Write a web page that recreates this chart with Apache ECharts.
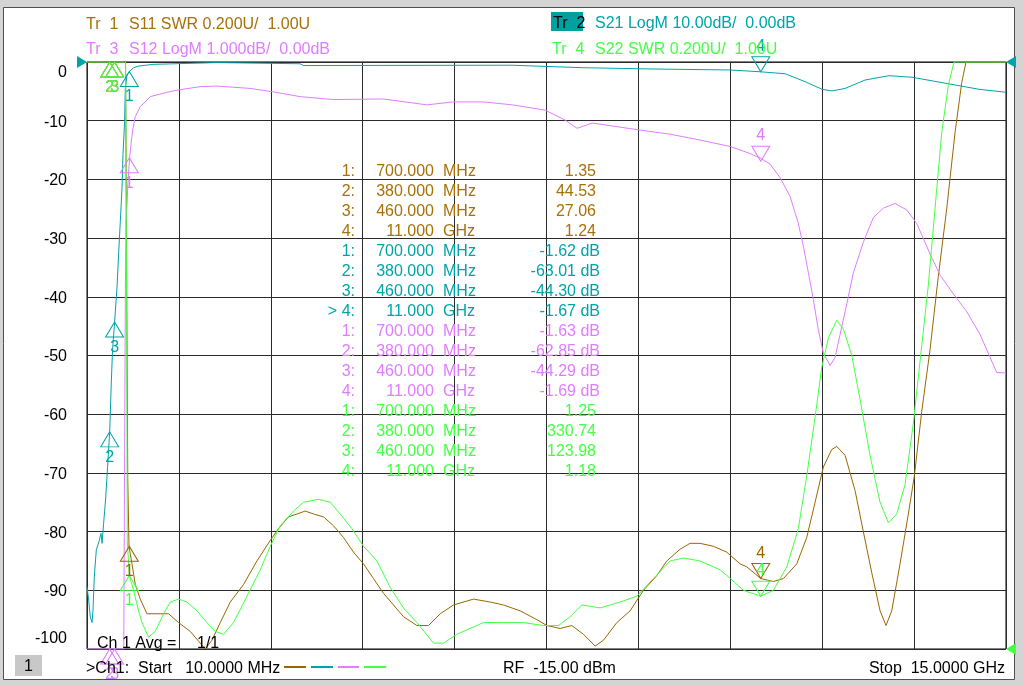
<!DOCTYPE html>
<html><head><meta charset="utf-8">
<script src="https://cdn.jsdelivr.net/npm/echarts@6/dist/echarts.min.js"></script>
<style>html,body{margin:0;padding:0;background:#d4d4d4;}#c{width:1024px;height:686px;}</style>
</head><body><div id="c"></div>
<script>
// ---- data (frequency in GHz) ----
const s11Freq = [0.010,0.639,0.659,0.675,0.695,0.744,0.798,0.879,0.988,1.151,1.341,1.504,1.694,1.857,1.939,2.048,2.184,2.347,2.564,2.782,2.999,3.134,3.297,3.434,3.570,3.705,3.868,4.031,4.194,4.357,4.520,4.683,4.846,5.009,5.173,5.391,5.580,5.771,5.988,6.314,6.586,6.803,7.075,7.348,7.511,7.728,7.918,8.108,8.298,8.434,8.652,8.869,9.086,9.304,9.467,9.684,9.847,10.010,10.227,10.446,10.663,10.772,11.000,11.206,11.369,11.587,11.750,11.886,12.021,12.158,12.240,12.375,12.538,12.673,12.810,12.946,13.043,13.136,13.272,13.407,13.505,13.626,13.761,13.896,14.033,14.169,14.278,14.348,15.000];
const s11Swr = [3.00,3.00,2.19,1.58,1.35,1.29,1.22,1.17,1.12,1.12,1.12,1.09,1.06,1.02,1.00,1.03,1.09,1.16,1.22,1.30,1.37,1.41,1.45,1.46,1.47,1.46,1.45,1.42,1.38,1.33,1.29,1.24,1.19,1.15,1.11,1.08,1.08,1.12,1.15,1.17,1.16,1.15,1.13,1.10,1.08,1.07,1.08,1.05,1.01,1.03,1.09,1.13,1.20,1.25,1.30,1.34,1.36,1.36,1.35,1.33,1.29,1.28,1.24,1.23,1.24,1.29,1.38,1.50,1.62,1.68,1.69,1.66,1.54,1.40,1.26,1.13,1.08,1.13,1.29,1.46,1.59,1.81,2.02,2.27,2.50,2.76,2.93,3.00,3.00];

const s21Freq = [0.010,0.036,0.064,0.092,0.108,0.129,0.162,0.211,0.238,0.255,0.281,0.313,0.346,0.380,0.406,0.427,0.460,0.499,0.525,0.553,0.581,0.597,0.623,0.635,0.662,0.700,0.765,0.846,1.091,2.135,3.488,3.537,6.945,8.087,9.228,10.500,11.000,11.397,11.723,12.000,12.163,12.375,12.701,13.092,13.467,14.005,14.560,15.000];
const s21Db = [-89.4,-91.5,-94.5,-95.5,-93.4,-87.7,-83.1,-81.5,-80.3,-82.0,-78.6,-74.6,-68.9,-63.0,-54.7,-49.0,-44.3,-38.5,-32.9,-27.2,-21.5,-15.8,-10.2,-4.5,-2.2,-1.62,-1.0,-0.7,-0.4,-0.1,-0.3,-0.6,-0.55,-0.97,-1.19,-1.36,-1.67,-2.0,-3.35,-4.65,-4.94,-4.5,-3.07,-2.33,-2.6,-3.6,-4.65,-5.16];

const s12Freq = [0.010,0.610,0.618,0.626,0.635,0.646,0.662,0.679,0.705,0.732,0.760,0.798,0.879,0.988,1.042,1.259,1.478,1.857,2.130,2.673,3.053,3.488,4.026,4.841,5.554,5.983,6.472,6.945,7.483,7.809,8.005,8.250,8.576,9.034,9.521,10.010,10.504,10.826,11.000,11.152,11.315,11.478,11.613,11.695,11.776,11.858,11.940,12.021,12.131,12.212,12.294,12.403,12.510,12.673,12.836,12.999,13.190,13.381,13.544,13.761,13.924,14.141,14.359,14.576,14.739,14.849,15.000];
const s12Db = [-10,-10,-8.0,-6.2,-4.0,-2.72,-2.44,-2.04,-1.64,-1.36,-1.13,-0.93,-0.76,-0.65,-0.59,-0.53,-0.48,-0.42,-0.41,-0.45,-0.51,-0.59,-0.64,-0.63,-0.73,-0.68,-0.68,-0.73,-0.82,-0.99,-1.13,-1.04,-1.09,-1.16,-1.23,-1.33,-1.44,-1.56,-1.64,-1.74,-1.97,-2.29,-2.75,-3.14,-3.59,-4.05,-4.57,-4.96,-5.17,-5.03,-4.64,-4.12,-3.59,-3.07,-2.65,-2.49,-2.41,-2.52,-2.75,-3.27,-3.63,-3.95,-4.25,-4.64,-5.03,-5.29,-5.30];

const s22Freq = [0.010,0.639,0.656,0.667,0.700,0.770,0.851,0.907,1.014,1.124,1.259,1.368,1.504,1.641,1.804,1.967,2.102,2.237,2.400,2.619,2.836,2.999,3.162,3.379,3.542,3.786,3.977,4.140,4.331,4.520,4.739,4.956,5.173,5.391,5.662,5.825,6.043,6.260,6.477,6.803,7.129,7.455,7.700,7.891,8.081,8.380,8.706,8.978,9.249,9.521,9.738,10.010,10.336,10.504,10.716,11.000,11.206,11.424,11.613,11.750,11.886,11.995,12.103,12.240,12.347,12.484,12.620,12.782,12.946,13.081,13.218,13.353,13.489,13.598,13.733,13.842,13.952,14.059,14.152,15.000];
const s22Swr = [3.00,3.00,2.19,1.37,1.25,1.20,1.13,1.09,1.04,1.06,1.12,1.16,1.17,1.16,1.13,1.09,1.06,1.05,1.09,1.18,1.27,1.35,1.42,1.47,1.50,1.51,1.50,1.46,1.41,1.35,1.30,1.21,1.14,1.09,1.02,1.02,1.05,1.07,1.09,1.09,1.09,1.08,1.08,1.11,1.15,1.14,1.16,1.18,1.24,1.30,1.31,1.30,1.27,1.24,1.20,1.18,1.20,1.28,1.41,1.59,1.79,1.96,2.06,2.12,2.09,2.00,1.85,1.66,1.50,1.43,1.46,1.56,1.77,1.98,2.24,2.50,2.76,2.92,3.00,3.00];

// markers
const markerFreq = [0.7, 0.38, 0.46, 11.0];
const markerFreqText = ['700.000', '380.000', '460.000', '11.000'];
const markerUnit = ['MHz', 'MHz', 'MHz', 'GHz'];
const s11Markers = [1.35, 44.53, 27.06, 1.24];
const s21Markers = [-1.62, -63.01, -44.30, -1.67];
const s12Markers = [-1.63, -62.85, -44.29, -1.69];
const s22Markers = [1.25, 330.74, 123.98, 1.18];

const yTicks = { min: -100, max: 0, step: 10 };

// ---- styling ----
const F = '"Liberation Sans", Arial, sans-serif';
const C1 = '#9a6600', C2 = '#00a4a8', C3 = '#e07cff', C4 = '#44ff44';
const T1 = '#a87008';
const DY = 2;

const zip = (a, b) => a.map((v, i) => [v, b[i]]);

function markers(vals, lo, hi, color) {
  return vals.map((v, i) => {
    const y = Math.min(hi, Math.max(lo, v));
    const act = i === 3;
    return {
      coord: [markerFreq[i], y],
      symbol: 'triangle', symbolSize: [18, 15],
      symbolRotate: act ? 180 : 0,
      symbolOffset: [0, act ? -7.5 : 7.5],
      itemStyle: { color: 'rgba(0,0,0,0)', borderColor: color, borderWidth: 1 },
      label: { show: true, formatter: String(i + 1), position: act ? 'top' : 'bottom', distance: 2,
        color: color, fontSize: 16, fontFamily: F }
    };
  });
}
function refArrow(x, y, color, side) {
  return {
    coord: [x, y], symbol: 'triangle', symbolSize: [12, 10],
    symbolRotate: side === 'left' ? -90 : 90,
    symbolOffset: [side === 'left' ? -5 : 5, 0],
    itemStyle: { color: color, borderWidth: 0 }, label: { show: false }
  };
}
function lineSeries(name, data, yIdx, color, mp) {
  return {
    name, type: 'line', xAxisIndex: 0, yAxisIndex: yIdx, data,
    showSymbol: false, symbol: 'none', silent: true, animation: false,
    lineStyle: { color, width: 1 }, itemStyle: { color },
    markPoint: { silent: true, animation: false, data: mp }
  };
}
function txt(x, y, text, color, align, size, z) {
  return { type: 'text', x, y: y + DY, z: z === undefined ? 100 : z, silent: true,
    style: { text, fill: color, font: (size || 16) + 'px ' + F,
      textAlign: align || 'left', align: align || 'left',
      textVerticalAlign: 'middle', verticalAlign: 'middle' } };
}

// marker table
const table = [];
const traces = [
  { vals: s11Markers, color: T1, db: false },
  { vals: s21Markers, color: C2, db: true },
  { vals: s12Markers, color: C3, db: true },
  { vals: s22Markers, color: C4, db: false }
];
traces.forEach((t, ti) => {
  t.vals.forEach((v, i) => {
    const y = 170 + (ti * 4 + i) * 20;
    const idx = (ti === 1 && i === 3) ? '> 4:' : (i + 1) + ':';
    table.push(txt(355, y, idx, t.color, 'right', 16, 1));
    table.push(txt(434, y, markerFreqText[i], t.color, 'right', 16, 1));
    table.push(txt(443, y, markerUnit[i], t.color, 'left', 16, 1));
    if (t.db) table.push(txt(600, y, v.toFixed(2) + ' dB', t.color, 'right', 16, 1));
    else table.push(txt(596, y, v.toFixed(2), t.color, 'right', 16, 1));
  });
});

const graphics = [
  { type: 'rect', z: -100, silent: true, shape: { x: 3.5, y: 7.5, width: 1011, height: 672 },
    style: { fill: '#ffffff', stroke: '#505050', lineWidth: 1 } },
  txt(86, 23, 'Tr  1', T1), txt(129, 23, 'S11 SWR 0.200U/  1.00U', T1),
  txt(86, 48, 'Tr  3', C3), txt(129, 48, 'S12 LogM 1.000dB/  0.00dB', C3),
  { type: 'rect', z: 99, silent: true, shape: { x: 551, y: 12, width: 32, height: 19 }, style: { fill: '#00a0a0' } },
  txt(553, 22, 'Tr  2', '#000000'), txt(595, 22, 'S21 LogM 10.00dB/  0.00dB', C2),
  txt(552, 48, 'Tr  4', C4), txt(595, 48, 'S22 SWR 0.200U/  1.00U', C4),
  txt(97, 642, 'Ch 1 Avg =', '#000000'), txt(197, 642, '1/1', '#000000'),
  { type: 'rect', z: 99, silent: true, shape: { x: 15, y: 655, width: 27, height: 21 }, style: { fill: '#c8c8c8' } },
  txt(28.5, 665, '1', '#000000', 'center'),
  txt(86, 667, '>Ch1:  Start   10.0000 MHz', '#000000'),
  { type: 'line', z: 100, silent: true, shape: { x1: 284, y1: 667, x2: 306, y2: 667 }, style: { stroke: C1, lineWidth: 2 } },
  { type: 'line', z: 100, silent: true, shape: { x1: 311, y1: 667, x2: 333, y2: 667 }, style: { stroke: C2, lineWidth: 2 } },
  { type: 'line', z: 100, silent: true, shape: { x1: 338, y1: 667, x2: 359, y2: 667 }, style: { stroke: C3, lineWidth: 2 } },
  { type: 'line', z: 100, silent: true, shape: { x1: 364, y1: 667, x2: 386, y2: 667 }, style: { stroke: C4, lineWidth: 2 } },
  txt(503, 667, 'RF  -15.00 dBm', '#000000'),
  txt(1005, 667, 'Stop  15.0000 GHz', '#000000', 'right')
].concat(table);

const chart = echarts.init(document.getElementById('c'), null, { renderer: 'canvas' });
chart.setOption({
  animation: false,
  backgroundColor: '#d4d4d4',
  grid: { left: 87, top: 62, width: 919, height: 587, show: true, borderColor: '#000', borderWidth: 1, backgroundColor: 'rgba(0,0,0,0)' },
  xAxis: [
    { type: 'value', min: 0.01, max: 15, show: false },
    { type: 'value', min: 0, max: 10, interval: 1, position: 'bottom',
      axisLine: { show: false }, axisTick: { show: false }, axisLabel: { show: false },
      splitLine: { show: true, lineStyle: { color: '#2a2a2a', width: 1 } } }
  ],
  yAxis: [
    { type: 'value', min: yTicks.min, max: yTicks.max, interval: yTicks.step,
      axisLine: { show: false }, axisTick: { show: false },
      splitLine: { show: true, lineStyle: { color: '#2a2a2a', width: 1 } },
      axisLabel: { margin: 20, color: '#000', fontSize: 16, fontFamily: F,
        formatter: v => v === yTicks.max ? '{t|' + v + '}' : (v === yTicks.min ? '{b|' + v + '}' : '{n|' + v + '}'),
        rich: { t: { padding: [22, 0, 0, 0], color: '#000', fontSize: 16, fontFamily: F },
                n: { padding: [3, 0, 0, 0], color: '#000', fontSize: 16, fontFamily: F },
                b: { padding: [0, 0, 20, 0], color: '#000', fontSize: 16, fontFamily: F } } } },
    { type: 'value', min: -10, max: 0, show: false },
    { type: 'value', min: 1, max: 3, show: false }
  ],
  series: [
    lineSeries('S11', zip(s11Freq, s11Swr), 2, C1, markers(s11Markers, 1, 3, C1)),
    lineSeries('S21', zip(s21Freq, s21Db), 0, C2, markers(s21Markers, -100, 0, C2)
      .concat([refArrow(0.01, 0, C2, 'left'), refArrow(15, 0, C2, 'right')])),
    lineSeries('S12', zip(s12Freq, s12Db), 1, C3, markers(s12Markers, -10, 0, C3)),
    lineSeries('S22', zip(s22Freq, s22Swr), 2, C4, markers(s22Markers, 1, 3, C4)
      .concat([refArrow(15, 1, C4, 'right')]))
  ],
  graphic: { elements: graphics }
});
</script>
</body></html>
